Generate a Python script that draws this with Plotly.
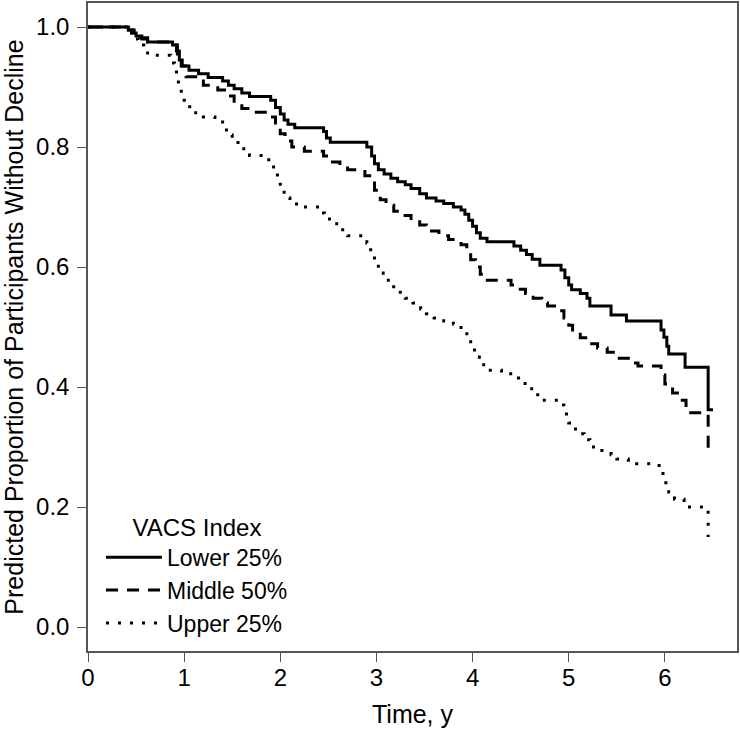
import plotly.graph_objects as go

# Lower 25% (solid)
t_lower = [0, 0.42, 0.46, 0.50, 0.56, 0.62, 0.88, 0.92, 0.95, 0.98, 1.05, 1.15, 1.25, 1.40, 1.46, 1.52,
           1.60, 1.68, 1.90, 1.95, 2.00, 2.04, 2.08, 2.15, 2.45, 2.48, 2.52, 2.90, 2.95, 2.98, 3.02,
           3.08, 3.15, 3.22, 3.30, 3.36, 3.45, 3.52, 3.62, 3.70, 3.80, 3.88, 3.92, 3.96, 4.00, 4.04,
           4.08, 4.15, 4.43, 4.50, 4.56, 4.62, 4.70, 4.92, 4.96, 5.00, 5.03, 5.12, 5.19, 5.22, 5.44,
           5.60, 5.96, 5.99, 6.02, 6.04, 6.21, 6.45, 6.50]
s_lower = [1.0, 0.995, 0.99, 0.985, 0.98, 0.975, 0.97, 0.96, 0.945, 0.935, 0.928, 0.922, 0.916, 0.91,
           0.903, 0.897, 0.89, 0.884, 0.878, 0.866, 0.855, 0.845, 0.838, 0.832, 0.826, 0.815, 0.808,
           0.80, 0.785, 0.772, 0.762, 0.755, 0.748, 0.742, 0.737, 0.731, 0.722, 0.715, 0.71, 0.706,
           0.70, 0.695, 0.688, 0.678, 0.668, 0.657, 0.648, 0.642, 0.635, 0.628, 0.621, 0.613, 0.603,
           0.595, 0.582, 0.57, 0.562, 0.556, 0.548, 0.535, 0.52, 0.51, 0.495, 0.483, 0.468, 0.455,
           0.433, 0.362, 0.362]

# Middle 50% (dashed)
t_middle = [0, 0.42, 0.48, 0.55, 0.62, 0.88, 0.93, 0.97, 1.02, 1.12, 1.20, 1.35, 1.45, 1.52, 1.60,
            1.70, 1.90, 1.95, 2.00, 2.05, 2.12, 2.25, 2.45, 2.50, 2.62, 2.70, 2.88, 2.93, 2.98, 3.04,
            3.10, 3.18, 3.26, 3.36, 3.45, 3.52, 3.65, 3.75, 3.88, 3.94, 3.98, 4.03, 4.08, 4.12, 4.40,
            4.47, 4.55, 4.63, 4.72, 4.78, 4.90, 4.95, 5.00, 5.04, 5.12, 5.20, 5.30, 5.40, 5.50, 5.62,
            5.72, 5.96, 6.00, 6.08, 6.13, 6.22, 6.45]
s_middle = [1.0, 0.995, 0.99, 0.982, 0.975, 0.97, 0.955, 0.935, 0.917, 0.91, 0.903, 0.895, 0.885,
            0.872, 0.864, 0.858, 0.85, 0.835, 0.822, 0.81, 0.80, 0.793, 0.785, 0.775, 0.768, 0.762,
            0.752, 0.74, 0.728, 0.712, 0.703, 0.693, 0.686, 0.678, 0.67, 0.66, 0.652, 0.646, 0.637,
            0.625, 0.612, 0.60, 0.588, 0.578, 0.57, 0.563, 0.556, 0.548, 0.54, 0.535, 0.527, 0.515,
            0.503, 0.492, 0.482, 0.472, 0.465, 0.458, 0.448, 0.44, 0.435, 0.42, 0.405, 0.39, 0.378,
            0.357, 0.298]

# Upper 25% (dotted)
t_upper = [0, 0.40, 0.46, 0.52, 0.58, 0.62, 0.86, 0.90, 0.94, 0.97, 1.00, 1.04, 1.10, 1.20, 1.32,
           1.40, 1.44, 1.50, 1.56, 1.62, 1.68, 1.88, 1.93, 1.97, 2.00, 2.04, 2.10, 2.20, 2.42, 2.46,
           2.55, 2.62, 2.70, 2.90, 2.94, 2.98, 3.02, 3.07, 3.14, 3.22, 3.30, 3.38, 3.46, 3.52, 3.60,
           3.70, 3.80, 3.88, 3.94, 3.98, 4.02, 4.07, 4.14, 4.30, 4.42, 4.50, 4.58, 4.65, 4.72, 4.90,
           4.95, 5.00, 5.04, 5.10, 5.16, 5.22, 5.30, 5.44, 5.50, 5.62, 5.68, 5.94, 5.98, 6.01, 6.04,
           6.10, 6.20, 6.38, 6.45]
s_upper = [1.0, 0.99, 0.98, 0.97, 0.96, 0.953, 0.94, 0.925, 0.905, 0.89, 0.878, 0.867, 0.857, 0.85,
           0.845, 0.835, 0.82, 0.81, 0.80, 0.79, 0.786, 0.775, 0.76, 0.745, 0.73, 0.715, 0.705, 0.70,
           0.69, 0.68, 0.672, 0.662, 0.652, 0.64, 0.625, 0.605, 0.59, 0.578, 0.567, 0.558, 0.548,
           0.54, 0.53, 0.522, 0.515, 0.51, 0.505, 0.495, 0.48, 0.465, 0.45, 0.437, 0.428, 0.422,
           0.415, 0.406, 0.397, 0.387, 0.378, 0.37, 0.355, 0.34, 0.33, 0.322, 0.312, 0.30, 0.294,
           0.287, 0.28, 0.275, 0.272, 0.262, 0.25, 0.238, 0.225, 0.213, 0.20, 0.195, 0.15]

series_names = ["Lower 25%", "Middle 50%", "Upper 25%"]
x_ticks = [0, 1, 2, 3, 4, 5, 6]
y_ticks = [0.0, 0.2, 0.4, 0.6, 0.8, 1.0]

FONT = "Liberation Sans, Arial, Helvetica, sans-serif"

fig = go.Figure()
styles = [("solid", 3), ("12px,9px", 3), ("3px,9px", 3)]
for (t, s), name, (dash, w) in zip([(t_lower, s_lower), (t_middle, s_middle), (t_upper, s_upper)],
                                   series_names, styles):
    fig.add_trace(go.Scatter(x=t, y=s, mode="lines", name=name,
                             line=dict(shape="hv", color="black", width=w, dash=dash)))

axis_common = dict(showline=True, linecolor="#555555", linewidth=1.5, mirror=True,
                   ticks="outside", ticklen=9, tickwidth=1.2, tickcolor="#555555",
                   showgrid=False, zeroline=False, automargin=False,
                   tickfont=dict(family=FONT, size=24, color="black"))

fig.update_xaxes(range=[0, 6.75], tickvals=x_ticks, ticktext=[str(v) for v in x_ticks],
                 ticklabelstandoff=-5,
                 title=dict(text="Time, y", font=dict(family=FONT, size=25, color="black"),
                            standoff=16),
                 **axis_common)
fig.update_yaxes(range=[-0.04, 1.04], tickvals=y_ticks, ticktext=[f"{v:.1f}" for v in y_ticks],
                 ticklabelstandoff=3,
                 title=dict(text="Predicted Proportion of Participants Without Decline",
                            font=dict(family=FONT, size=25, color="black"), standoff=7),
                 **axis_common)

fig.update_layout(
    width=740, height=734,
    margin=dict(l=88, r=3, t=3, b=83),
    plot_bgcolor="white", paper_bgcolor="white",
    font=dict(family=FONT, color="black"),
    legend=dict(x=0.02, y=0.226, xanchor="left", yanchor="top",
                bgcolor="rgba(0,0,0,0)", borderwidth=0,
                title=dict(text="VACS Index", side="top center",
                           font=dict(family=FONT, size=24, color="black")),
                font=dict(family=FONT, size=23, color="black"),
                tracegroupgap=0, itemwidth=56),
)

fig.write_html("out.html",
               config={"displayModeBar": False},
               post_script="document.body.style.margin='0';document.documentElement.style.margin='0';")
